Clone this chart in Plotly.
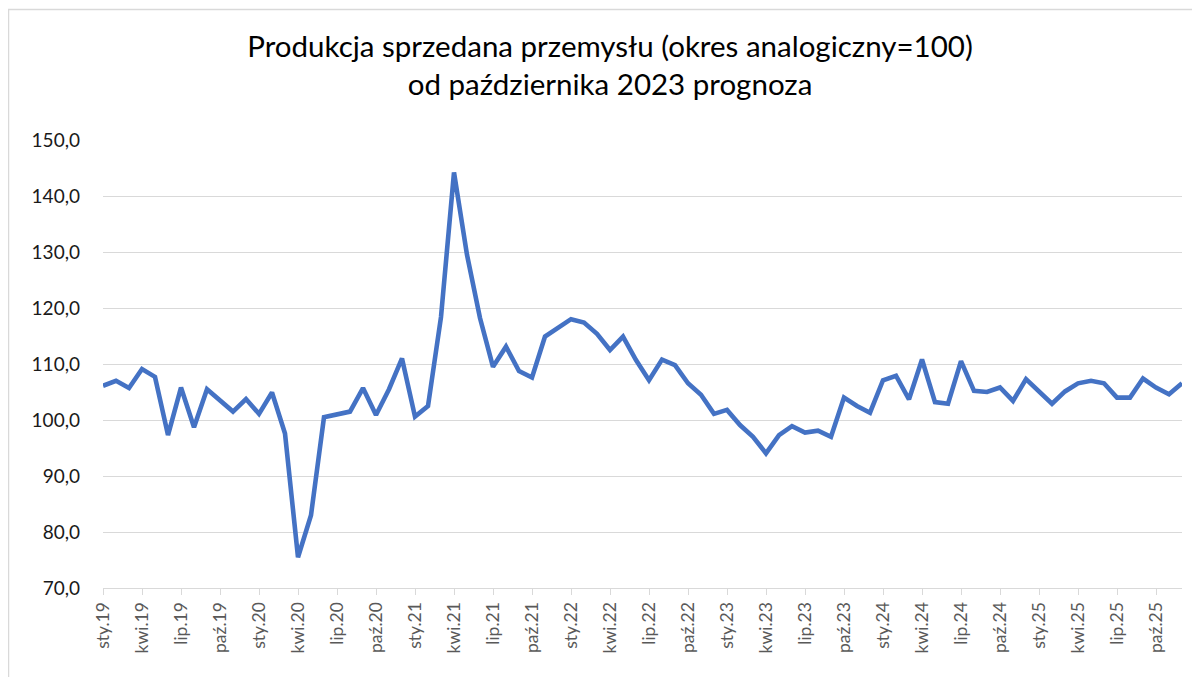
import plotly.graph_objects as go

months = ["sty", "lut", "mar", "kwi", "maj", "cze", "lip", "sie", "wrz", "paź", "lis", "gru"]
years = ["19", "20", "21", "22", "23", "24", "25"]
categories = [f"{m}.{y}" for y in years for m in months]

values = [
    106.1, 107.0, 105.7, 109.1, 107.7, 97.3, 105.8, 98.7, 105.5, 103.4, 101.5, 103.75,
    101.1, 104.9, 97.6, 75.5, 83.0, 100.5, 101.0, 101.5, 105.7, 100.9, 105.5, 111.0,
    100.6, 102.5, 118.4, 144.2, 129.5, 118.2, 109.5, 113.1, 108.75, 107.6, 114.9, 116.4,
    118.0, 117.4, 115.4, 112.5, 114.9, 110.7, 107.1, 110.8, 109.8, 106.55, 104.5, 101.1,
    101.8, 99.1, 97.0, 94.05, 97.3, 98.9, 97.75, 98.1, 97.0, 104.0, 102.5, 101.3,
    107.1, 107.9, 103.7, 110.8, 103.2, 102.9, 110.5, 105.2, 105.0, 105.8, 103.4, 107.3,
    105.1, 102.9, 105.1, 106.55, 107.0, 106.55, 104.0, 104.0, 107.4, 105.8, 104.6, 106.55,
]

tick_idx = list(range(0, len(categories), 3))
tick_labels = [categories[i] for i in tick_idx]
y_ticks = [70, 80, 90, 100, 110, 120, 130, 140, 150]
y_labels = [f"{v},0" for v in y_ticks]

title_line1 = "Produkcja sprzedana przemysłu (okres analogiczny=100)"
title_line2 = "od października 2023 prognoza"

# page body has an 8px margin; figure coordinates = screen coordinates - 8
OFF = 8
W, H = 1200 - OFF, 677 - OFF
L, R, T, B = 103 - OFF, 18, 140 - OFF, 89
pw = W - L - R
ph = H - T - B

x = list(range(len(values)))

fig = go.Figure()
fig.add_trace(go.Scatter(
    x=x, y=values, mode="lines",
    line=dict(color="#4472C4", width=4.6),
    hoverinfo="skip", showlegend=False,
))

fig.update_layout(
    width=W, height=H,
    margin=dict(l=L, r=R, t=T, b=B, pad=0),
    paper_bgcolor="white", plot_bgcolor="white",
    font=dict(family="Lato, 'Open Sans', sans-serif"),
    title=dict(
        text=title_line1 + "<br>" + title_line2,
        x=(610 - OFF) / W, xref="container", xanchor="center",
        y=1 - (57 - OFF) / H, yref="container", yanchor="top",
        font=dict(size=29.5, color="#000000", family="Lato, sans-serif"),
    ),
    xaxis=dict(
        range=[0, len(values) - 1],
        tickmode="array", tickvals=tick_idx, ticktext=tick_labels,
        tickangle=-90,
        tickfont=dict(size=17.5, color="#595959"),
        ticks="outside", ticklen=6, tickcolor="#d9d9d9", tickwidth=1.3,
        showgrid=False, zeroline=False,
        showline=True, linecolor="#d9d9d9", linewidth=1.3,
        fixedrange=True,
    ),
    yaxis=dict(
        range=[70, 150],
        tickmode="array", tickvals=y_ticks, ticktext=y_labels,
        tickfont=dict(size=19, color="#1a1a1a"),
        ticks="", ticklabelstandoff=22,
        showgrid=True, gridcolor="#d9d9d9", gridwidth=1.3,
        zeroline=False, showline=False,
        fixedrange=True,
    ),
)

def px_to_paper_x(px):
    return (px - OFF - L) / pw

def px_to_paper_y(py):
    return (H - B - (py - OFF)) / ph

# chart-area border (runs past the right and bottom edges, as in the reference)
fig.add_shape(
    type="rect", xref="paper", yref="paper",
    x0=px_to_paper_x(8.5), x1=px_to_paper_x(1215),
    y0=px_to_paper_y(690), y1=px_to_paper_y(9.5),
    line=dict(color="#d9d9d9", width=1.5), fillcolor="rgba(0,0,0,0)",
    layer="below",
)

fig.write_html("out.html")
